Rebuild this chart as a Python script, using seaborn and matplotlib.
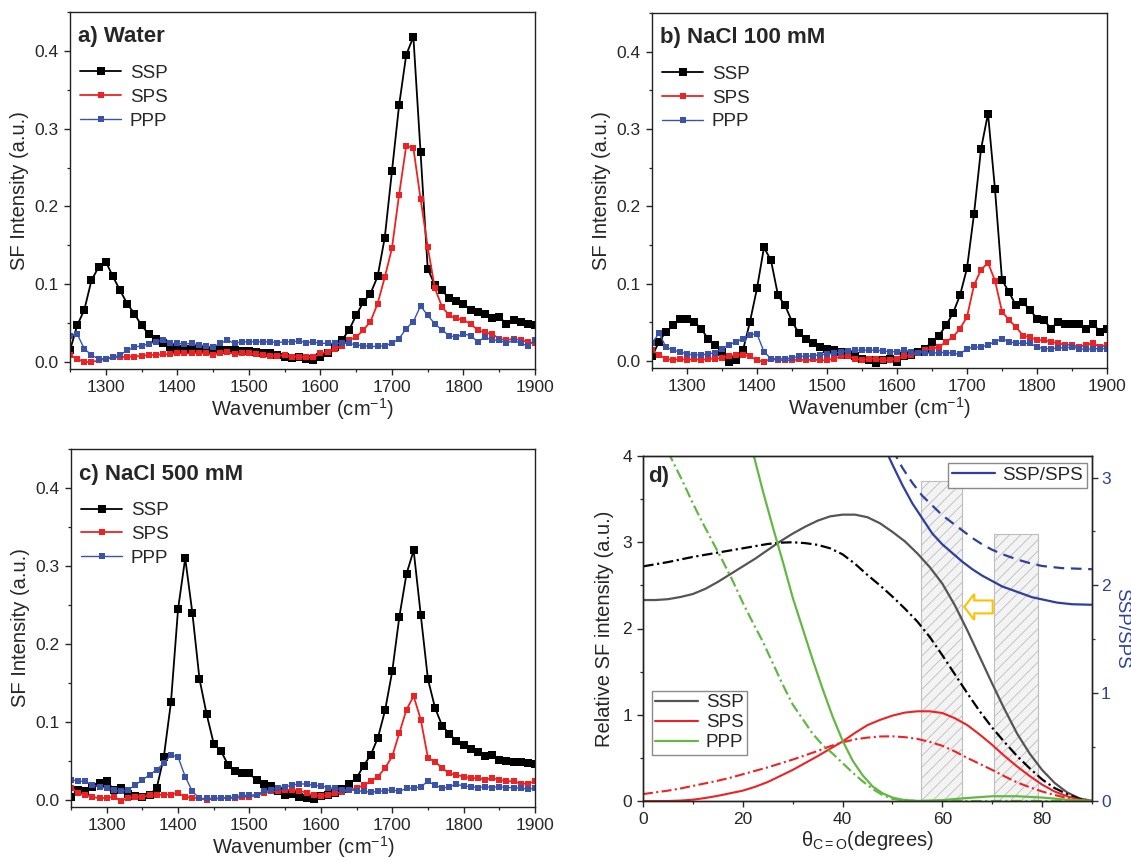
import numpy as np
import matplotlib
matplotlib.use("Agg")
import matplotlib.pyplot as plt
from matplotlib.lines import Line2D
from matplotlib.patches import FancyArrow
from matplotlib.ticker import MultipleLocator
import seaborn as sns

# ---------------- data: spectra (wavenumber grid, cm-1) ----------------
wavenumber = np.arange(1250, 1901, 10)

water_ssp = [0.015, 0.047, 0.067, 0.105, 0.122, 0.129, 0.110, 0.092, 0.075, 0.062,
             0.047, 0.036, 0.030, 0.024, 0.019, 0.017, 0.017, 0.017, 0.017, 0.016,
             0.016, 0.015, 0.015, 0.015, 0.014, 0.014, 0.013, 0.012, 0.011, 0.009,
             0.006, 0.005, 0.006, 0.004, 0.002, 0.006, 0.011, 0.019, 0.028, 0.041,
             0.060, 0.077, 0.088, 0.110, 0.160, 0.245, 0.330, 0.395, 0.418, 0.270,
             0.120, 0.099, 0.092, 0.082, 0.079, 0.075, 0.067, 0.064, 0.062, 0.056,
             0.058, 0.049, 0.054, 0.052, 0.049, 0.047]
water_sps = [0.009, 0.004, 0.000, 0.000, 0.002, 0.004, 0.006, 0.006, 0.007, 0.007,
             0.008, 0.009, 0.009, 0.010, 0.010, 0.011, 0.011, 0.011, 0.012, 0.011,
             0.009, 0.012, 0.013, 0.010, 0.011, 0.011, 0.010, 0.009, 0.008, 0.008,
             0.009, 0.007, 0.007, 0.006, 0.006, 0.011, 0.013, 0.017, 0.021, 0.028,
             0.032, 0.041, 0.052, 0.075, 0.109, 0.146, 0.215, 0.278, 0.275, 0.210,
             0.148, 0.095, 0.071, 0.060, 0.056, 0.054, 0.049, 0.041, 0.038, 0.036,
             0.030, 0.028, 0.030, 0.028, 0.026, 0.024]
water_ppp = [0.034, 0.036, 0.017, 0.009, 0.004, 0.004, 0.006, 0.009, 0.015, 0.019,
             0.021, 0.023, 0.026, 0.028, 0.024, 0.024, 0.023, 0.024, 0.022, 0.021,
             0.019, 0.024, 0.028, 0.024, 0.026, 0.026, 0.026, 0.026, 0.026, 0.025,
             0.026, 0.026, 0.027, 0.025, 0.026, 0.024, 0.024, 0.024, 0.024, 0.024,
             0.022, 0.021, 0.020, 0.020, 0.021, 0.024, 0.030, 0.043, 0.052, 0.072,
             0.060, 0.049, 0.041, 0.034, 0.032, 0.036, 0.034, 0.026, 0.032, 0.028,
             0.028, 0.024, 0.028, 0.024, 0.021, 0.028]

nacl100_ssp = [0.006, 0.025, 0.038, 0.046, 0.055, 0.055, 0.051, 0.042, 0.029, 0.021,
               0.012, -0.001, 0.001, 0.014, 0.051, 0.094, 0.147, 0.130, 0.085, 0.072,
               0.051, 0.036, 0.029, 0.023, 0.018, 0.016, 0.014, 0.012, 0.008, 0.006,
               0.003, 0.001, -0.003, 0.001, 0.003, -0.001, 0.006, 0.008, 0.012, 0.016,
               0.025, 0.033, 0.046, 0.062, 0.085, 0.120, 0.190, 0.274, 0.320, 0.222,
               0.105, 0.089, 0.072, 0.076, 0.066, 0.055, 0.053, 0.042, 0.051, 0.048,
               0.048, 0.048, 0.042, 0.048, 0.038, 0.042]
nacl100_sps = [0.014, 0.008, 0.003, 0.001, 0.003, 0.001, 0.003, 0.001, 0.003, 0.003,
               0.004, 0.006, 0.008, 0.008, 0.006, 0.001, -0.001, 0.003, 0.001, 0.001,
               0.001, 0.002, 0.001, 0.002, 0.001, 0.001, 0.003, 0.006, 0.006, 0.003,
               0.001, 0.003, 0.003, 0.001, 0.001, 0.003, 0.006, 0.008, 0.010, 0.014,
               0.016, 0.018, 0.025, 0.031, 0.042, 0.057, 0.098, 0.118, 0.127, 0.104,
               0.064, 0.053, 0.044, 0.033, 0.031, 0.027, 0.027, 0.025, 0.023, 0.021,
               0.021, 0.018, 0.021, 0.023, 0.018, 0.021]
nacl100_ppp = [0.023, 0.036, 0.018, 0.014, 0.012, 0.009, 0.008, 0.008, 0.009, 0.011,
               0.016, 0.021, 0.025, 0.029, 0.034, 0.035, 0.012, 0.003, 0.003, 0.003,
               0.004, 0.006, 0.006, 0.007, 0.008, 0.009, 0.010, 0.012, 0.013, 0.014,
               0.014, 0.014, 0.014, 0.013, 0.012, 0.012, 0.014, 0.012, 0.011, 0.011,
               0.010, 0.011, 0.011, 0.010, 0.009, 0.016, 0.018, 0.018, 0.021, 0.025,
               0.029, 0.025, 0.023, 0.023, 0.023, 0.018, 0.016, 0.016, 0.017, 0.017,
               0.018, 0.016, 0.015, 0.016, 0.016, 0.016]

nacl500_ssp = [0.004, 0.013, 0.011, 0.017, 0.022, 0.024, 0.013, 0.016, 0.008, 0.005,
               0.004, 0.007, 0.015, 0.055, 0.125, 0.245, 0.310, 0.240, 0.155, 0.110,
               0.072, 0.063, 0.045, 0.037, 0.034, 0.034, 0.025, 0.021, 0.018, 0.012,
               0.007, 0.008, 0.004, 0.002, 0.001, 0.005, 0.007, 0.009, 0.014, 0.021,
               0.028, 0.044, 0.058, 0.080, 0.115, 0.165, 0.235, 0.290, 0.320, 0.237,
               0.155, 0.118, 0.095, 0.085, 0.075, 0.070, 0.065, 0.062, 0.056, 0.058,
               0.051, 0.050, 0.049, 0.049, 0.047, 0.046]
nacl500_sps = [0.016, 0.009, 0.006, 0.004, 0.002, 0.003, 0.004, -0.001, 0.002, 0.004,
               0.004, 0.006, 0.006, 0.007, 0.007, 0.009, 0.004, 0.003, 0.002, 0.000,
               0.002, 0.002, 0.003, 0.002, 0.004, 0.004, 0.006, 0.009, 0.011, 0.011,
               0.013, 0.013, 0.012, 0.009, 0.006, 0.005, 0.006, 0.009, 0.010, 0.013,
               0.015, 0.019, 0.024, 0.030, 0.041, 0.056, 0.086, 0.116, 0.133, 0.103,
               0.054, 0.049, 0.041, 0.034, 0.032, 0.030, 0.028, 0.028, 0.026, 0.028,
               0.026, 0.024, 0.024, 0.021, 0.021, 0.024]
nacl500_ppp = [0.026, 0.024, 0.024, 0.019, 0.017, 0.015, 0.013, 0.011, 0.013, 0.019,
               0.026, 0.032, 0.039, 0.047, 0.058, 0.055, 0.030, 0.011, 0.002, 0.002,
               0.002, 0.002, 0.003, 0.004, 0.006, 0.006, 0.007, 0.011, 0.013, 0.016,
               0.017, 0.019, 0.021, 0.020, 0.019, 0.018, 0.016, 0.015, 0.013, 0.013,
               0.012, 0.011, 0.010, 0.011, 0.012, 0.013, 0.011, 0.015, 0.015, 0.017,
               0.024, 0.019, 0.015, 0.017, 0.020, 0.018, 0.017, 0.016, 0.017, 0.016,
               0.017, 0.016, 0.016, 0.015, 0.014, 0.015]

panel_titles = ["a) Water", "b) NaCl 100 mM", "c) NaCl 500 mM"]
series_labels = ["SSP", "SPS", "PPP"]

# ---------------- data: panel d (orientation analysis) ----------------
theta = np.arange(0, 90.1, 2.5)
ssp_solid = [2.33, 2.33, 2.34, 2.365, 2.40, 2.46, 2.54, 2.63, 2.72, 2.81,
             2.91, 3.01, 3.10, 3.18, 3.25, 3.30, 3.32, 3.32, 3.29, 3.22,
             3.12, 3.01, 2.87, 2.71, 2.52, 2.27, 1.98, 1.67, 1.36, 1.06,
             0.78, 0.55, 0.36, 0.21, 0.10, 0.03, 0.0]
ssp_dashdot = [2.72, 2.745, 2.77, 2.80, 2.83, 2.855, 2.88, 2.905, 2.93, 2.955,
               2.98, 2.995, 3.00, 2.99, 2.97, 2.93, 2.86, 2.75, 2.62, 2.50,
               2.37, 2.23, 2.08, 1.90, 1.69, 1.47, 1.25, 1.04, 0.85, 0.68,
               0.52, 0.38, 0.25, 0.15, 0.08, 0.025, 0.0]
sps_solid = [0.0, 0.0, 0.0, 0.005, 0.015, 0.035, 0.06, 0.09, 0.12, 0.165,
             0.22, 0.29, 0.36, 0.44, 0.52, 0.605, 0.69, 0.79, 0.88, 0.94,
             0.99, 1.025, 1.04, 1.04, 1.02, 0.96, 0.88, 0.77, 0.65, 0.52,
             0.40, 0.29, 0.19, 0.11, 0.055, 0.015, 0.0]
sps_dashdot = [0.08, 0.10, 0.12, 0.145, 0.175, 0.205, 0.235, 0.27, 0.31, 0.35,
               0.39, 0.435, 0.48, 0.53, 0.58, 0.635, 0.68, 0.715, 0.735, 0.748,
               0.75, 0.74, 0.72, 0.685, 0.64, 0.575, 0.50, 0.43, 0.36, 0.285,
               0.215, 0.16, 0.11, 0.07, 0.035, 0.01, 0.0]
theta_ppp_solid = [22, 24, 26, 28, 30, 32, 34, 36, 38, 40, 42, 44, 46, 48, 50, 52,
                   55, 60, 65, 70, 75, 80, 85, 90]
ppp_solid = [4.05, 3.60, 3.18, 2.78, 2.36, 2.00, 1.64, 1.30, 0.98, 0.70, 0.47, 0.30,
             0.17, 0.09, 0.04, 0.015, 0.0, 0.01, 0.035, 0.055, 0.055, 0.04, 0.015, 0.0]
theta_ppp_dashdot = [5, 8, 10, 12, 14, 16, 18, 20, 22, 24, 26, 28, 30, 32, 34, 36, 38,
                     40, 42, 44, 46, 48, 50, 52, 55, 60, 70, 80, 90]
ppp_dashdot = [4.05, 3.70, 3.45, 3.22, 3.00, 2.78, 2.55, 2.30, 2.07, 1.85, 1.60, 1.35,
               1.12, 0.95, 0.78, 0.65, 0.55, 0.44, 0.33, 0.23, 0.14, 0.07, 0.025, 0.01,
               0.0, 0.0, 0.0, 0.0, 0.0]
theta_ratio_solid = [48, 50, 52, 54, 56, 58, 60, 62, 64, 66, 68, 70, 72, 75, 78, 80, 83, 86, 90]
ratio_solid = [3.32, 3.12, 2.93, 2.76, 2.62, 2.48, 2.38, 2.30, 2.22, 2.15, 2.09, 2.04,
               1.99, 1.94, 1.89, 1.87, 1.84, 1.825, 1.82]
theta_ratio_dashed = [50, 52, 54, 56, 58, 60, 62, 64, 66, 68, 70, 72, 75, 78, 80, 84, 90]
ratio_dashed = [3.26, 3.09, 2.95, 2.83, 2.74, 2.65, 2.58, 2.51, 2.44, 2.38, 2.33, 2.29,
                2.24, 2.20, 2.18, 2.16, 2.15]
band_lo = [55.7, 70.4]
band_hi = [63.9, 79.2]
band_top = [3.71, 3.10]
arrow_tail, arrow_head, arrow_y = 70.1, 64.4, 2.25

# ---------------- style ----------------
sns.set_style("ticks")
plt.rcParams.update({
    "font.family": ["Liberation Sans", "DejaVu Sans"],
    "mathtext.fontset": "custom",
    "mathtext.rm": "Liberation Sans",
    "mathtext.it": "Liberation Sans:italic",
    "mathtext.default": "regular",
    "axes.linewidth": 1.0,
    "axes.edgecolor": "#222222",
    "xtick.direction": "out",
    "ytick.direction": "out",
    "xtick.major.size": 4.5,
    "ytick.major.size": 4.5,
    "xtick.minor.size": 2.5,
    "ytick.minor.size": 2.5,
    "xtick.major.width": 1.0,
    "ytick.major.width": 1.0,
    "xtick.minor.width": 0.9,
    "ytick.minor.width": 0.9,
    "xtick.labelsize": 12.5,
    "ytick.labelsize": 12.5,
    "hatch.linewidth": 0.6,
})

BLACK = "#000000"
RED = "#EE2222"
BLUE_S = "#3A53A8"
GRAY = "#555555"
GREEN = "#63B844"
BLUE_D = "#2E3F9E"

fig = plt.figure(figsize=(11.31, 8.61), dpi=100)
W, H = 1131, 861


def add_axes_px(left, top, right, bottom):
    return fig.add_axes([left / W, 1 - bottom / H, (right - left) / W, (bottom - top) / H])


ax_a = add_axes_px(70, 12, 535, 369)
ax_b = add_axes_px(652, 13, 1107, 368)
ax_c = add_axes_px(71, 449, 535, 807)
ax_d = add_axes_px(643, 456, 1092, 801)

spectra = [
    (ax_a, panel_titles[0], water_ssp, water_sps, water_ppp),
    (ax_b, panel_titles[1], nacl100_ssp, nacl100_sps, nacl100_ppp),
    (ax_c, panel_titles[2], nacl500_ssp, nacl500_sps, nacl500_ppp),
]
styles = [(BLACK, 5.4, 1.3), (RED, 5.0, 1.3), (BLUE_S, 3.9, 1.0)]

for ax, title, ssp, sps, ppp in spectra:
    for vals, lab, (col, ms, lw) in zip([ssp, sps, ppp], series_labels, styles):
        sns.lineplot(x=wavenumber, y=vals, ax=ax, color=col, marker="s",
                     markersize=ms, markeredgewidth=0, linewidth=lw,
                     label=lab, sort=False, errorbar=None)
    ax.set_xlim(1250, 1900)
    ax.set_ylim(-0.009, 0.45)
    ax.xaxis.set_major_locator(MultipleLocator(100))
    ax.xaxis.set_minor_locator(MultipleLocator(50))
    ax.yaxis.set_major_locator(MultipleLocator(0.1))
    ax.yaxis.set_minor_locator(MultipleLocator(0.05))
    ax.yaxis.set_major_formatter(matplotlib.ticker.FormatStrFormatter("%.1f"))
    ax.tick_params(top=False, right=False, which="both")
    ax.set_xlabel("Wavenumber (cm$^{-1}$)", fontsize=14.5, labelpad=1)
    ax.set_ylabel("SF Intensity (a.u.)", fontsize=14.5, labelpad=4)
    ax.text(0.017, 0.93, title, transform=ax.transAxes, fontsize=16,
            fontweight="bold", va="center", ha="left")
    ax.legend(loc="upper left", bbox_to_anchor=(0.022, 0.852), frameon=False,
              fontsize=13.5, handlelength=2.2, handletextpad=0.45,
              labelspacing=0.36, borderpad=0, borderaxespad=0, numpoints=1)
    for s in ax.spines.values():
        s.set_visible(True)

# ---------------- panel d ----------------
ax = ax_d
centers = [(lo + hi) / 2 for lo, hi in zip(band_lo, band_hi)]
widths = [hi - lo for lo, hi in zip(band_lo, band_hi)]
ax.bar(centers, band_top, width=widths, color="#F3F3F3", edgecolor="#BDBDBD",
       hatch="///", linewidth=0.8, zorder=0.5)

dashdot = (0, (4.8, 1.6, 1.0, 1.6))
sns.lineplot(x=theta, y=ssp_solid, ax=ax, color=GRAY, linewidth=1.6, sort=False, errorbar=None)
sns.lineplot(x=theta, y=ssp_dashdot, ax=ax, color=BLACK, linewidth=1.6, linestyle=dashdot,
             sort=False, errorbar=None)
sns.lineplot(x=theta, y=sps_solid, ax=ax, color=RED, linewidth=1.5, sort=False, errorbar=None)
sns.lineplot(x=theta, y=sps_dashdot, ax=ax, color=RED, linewidth=1.5, linestyle=dashdot,
             sort=False, errorbar=None)
sns.lineplot(x=theta_ppp_solid, y=ppp_solid, ax=ax, color=GREEN, linewidth=1.6, sort=False,
             errorbar=None)
sns.lineplot(x=theta_ppp_dashdot, y=ppp_dashdot, ax=ax, color=GREEN, linewidth=1.6,
             linestyle=dashdot, sort=False, errorbar=None)

arrow = FancyArrow(arrow_tail, arrow_y, arrow_head - arrow_tail, 0, width=0.15,
                   head_width=0.30, head_length=2.0, length_includes_head=True,
                   facecolor="white", edgecolor="#FFC000", linewidth=1.5, zorder=4)
ax.add_patch(arrow)

ax.set_xlim(0, 90)
ax.set_ylim(0, 4)
ax.xaxis.set_major_locator(MultipleLocator(20))
ax.xaxis.set_minor_locator(MultipleLocator(10))
ax.yaxis.set_major_locator(MultipleLocator(1))
ax.yaxis.set_minor_locator(MultipleLocator(0.5))
ax.tick_params(top=False, right=False, which="both")
ax.set_xlabel(r"$\theta_{C=O}$(degrees)", fontsize=14.5, labelpad=1)
ax.set_ylabel("Relative SF intensity (a.u.)", fontsize=14.5, labelpad=6)
ax.text(0.012, 0.94, "d)", transform=ax.transAxes, fontsize=16, fontweight="bold",
        va="center", ha="left")
leg_handles = [Line2D([], [], color=GRAY, lw=1.6), Line2D([], [], color=RED, lw=1.5),
               Line2D([], [], color=GREEN, lw=1.6)]
leg_d = ax.legend(leg_handles, series_labels, loc="lower left", bbox_to_anchor=(0.019, 0.133),
                  frameon=True, fancybox=False, edgecolor="#8A8A8A", framealpha=1,
                  fontsize=13.5, handlelength=2.3, handletextpad=0.4, labelspacing=0.15,
                  borderpad=0.2, borderaxespad=0)
leg_d.get_frame().set_linewidth(1.0)

ax2 = ax.twinx()
sns.lineplot(x=theta_ratio_solid, y=ratio_solid, ax=ax2, color=BLUE_D, linewidth=1.6,
             sort=False, errorbar=None)
sns.lineplot(x=theta_ratio_dashed, y=ratio_dashed, ax=ax2, color=BLUE_D, linewidth=1.6,
             linestyle=(0, (4.8, 3.0)), sort=False, errorbar=None)
ax2.set_ylim(0, 3.2)
ax2.set_xlim(0, 90)
ax2.yaxis.set_major_locator(MultipleLocator(1))
ax2.yaxis.set_minor_locator(MultipleLocator(0.5))
ax2.tick_params(axis="y", which="both", colors="#333333")
ax2.tick_params(axis="y", labelcolor=BLUE_D, pad=2)
ax2.set_ylabel("SSP/SPS", color=BLUE_D, fontsize=13.5, rotation=270, va="center", ha="center")
ax2.yaxis.set_label_coords(1.067, 0.5)
leg_r = ax2.legend([Line2D([], [], color=BLUE_D, lw=1.6)], ["SSP/SPS"], loc="upper right",
                   bbox_to_anchor=(0.989, 0.98), frameon=True, fancybox=False,
                   edgecolor="#8A8A8A", framealpha=1, fontsize=13.5, handlelength=2.3,
                   handletextpad=0.4, borderpad=0.2, borderaxespad=0)
leg_r.get_frame().set_linewidth(1.0)

fig.savefig("out.png", dpi=100)
